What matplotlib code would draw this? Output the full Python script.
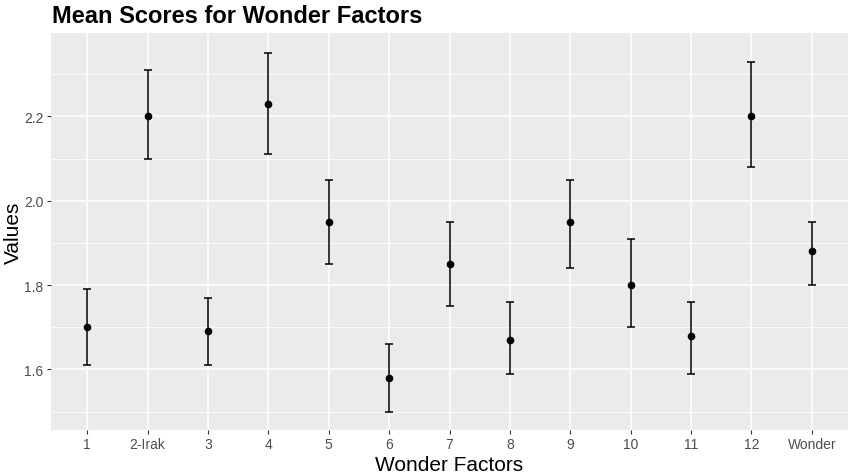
import matplotlib
matplotlib.use('Agg')
import matplotlib.pyplot as plt
import numpy as np

factors = ['1', '2-Irak', '3', '4', '5', '6', '7', '8', '9', '10', '11', '12', 'Wonder']
means = [1.70, 2.20, 1.69, 2.23, 1.95, 1.58, 1.85, 1.67, 1.95, 1.80, 1.68, 2.20, 1.88]
lower = [1.61, 2.10, 1.61, 2.11, 1.85, 1.50, 1.75, 1.59, 1.84, 1.70, 1.59, 2.08, 1.80]
upper = [1.79, 2.31, 1.77, 2.35, 2.05, 1.66, 1.95, 1.76, 2.05, 1.91, 1.76, 2.33, 1.95]

plt.rcParams['font.family'] = ['Liberation Sans', 'DejaVu Sans']

fig = plt.figure(figsize=(8.52, 4.77), dpi=100)
ax = fig.add_axes([0.0599, 0.0971, 0.9354, 0.8309])

x = np.arange(1, len(factors) + 1)
m = np.array(means)
yerr = [m - np.array(lower), np.array(upper) - m]

# ggplot-like grey panel
ax.set_facecolor('#EBEBEB')
for s in ax.spines.values():
    s.set_visible(False)

ax.set_xlim(0.4, len(factors) + 0.6)
ax.set_ylim(1.457, 2.397)
ax.set_xticks(x)
ax.set_xticklabels(factors)
ax.set_yticks([1.6, 1.8, 2.0, 2.2])
ax.set_yticklabels(['1.6', '1.8', '2.0', '2.2'])
ax.set_yticks([1.5, 1.7, 1.9, 2.1, 2.3], minor=True)

ax.grid(which='major', color='white', linewidth=1.1)
ax.grid(which='minor', axis='y', color='white', linewidth=0.55)
ax.set_axisbelow(True)

ax.tick_params(axis='both', which='major', length=3, width=0.8, color='#333333',
               labelcolor='#4D4D4D', labelsize=10, pad=2.5)
ax.tick_params(axis='y', which='minor', length=0)

ax.errorbar(x, m, yerr=yerr, fmt='o', color='black', ecolor='black',
            markersize=4.5, elinewidth=1.1, capsize=3.2, capthick=1.1, zorder=3)

ax.set_xlabel('Wonder Factors', fontsize=15, labelpad=3)
ax.set_ylabel('Values', fontsize=15, labelpad=0.5)
fig.text(0.061, 0.952, 'Mean Scores for Wonder Factors', fontsize=17,
         fontweight='bold', ha='left', va='baseline')

fig.savefig('out.png', dpi=100)
